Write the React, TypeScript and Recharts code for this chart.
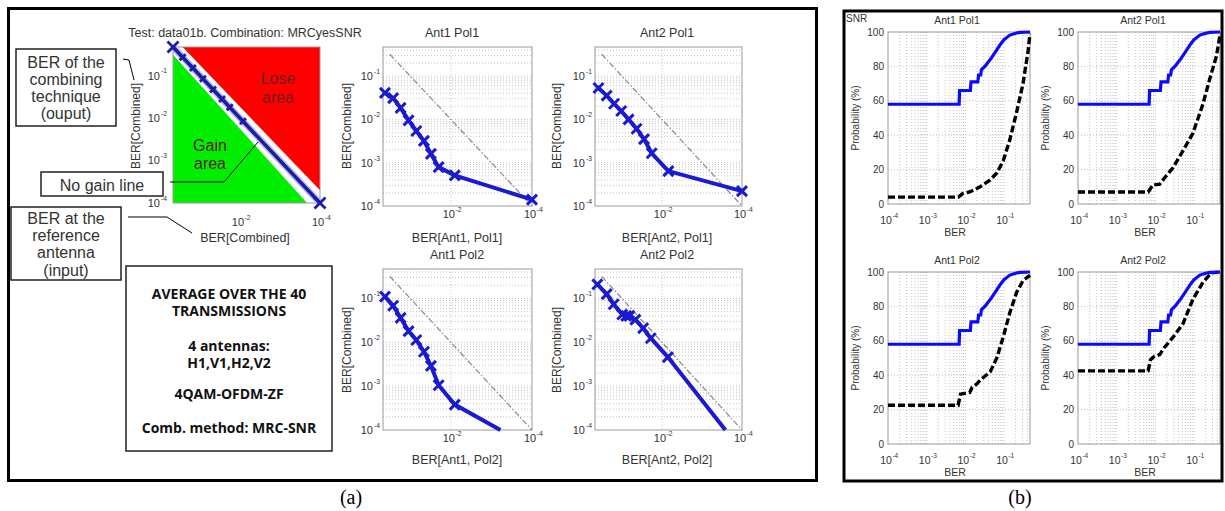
import React from 'react';
import { ComposedChart, Line, XAxis, YAxis, CartesianGrid, ReferenceArea } from 'recharts';

// ---- axis ranges / ticks (BER is on a log scale everywhere) ----
const berDomain = [1e-4, 0.47];
const berYTicks = [1e-4, 1e-3, 1e-2, 1e-1];
const berXTicks = [1e-4, 1e-2];
const berMinorGrid = [
  2e-4, 3e-4, 4e-4, 5e-4, 6e-4, 7e-4, 8e-4, 9e-4, 1e-3,
  2e-3, 3e-3, 4e-3, 5e-3, 6e-3, 7e-3, 8e-3, 9e-3, 1e-2,
  2e-2, 3e-2, 4e-2, 5e-2, 6e-2, 7e-2, 8e-2, 9e-2, 1e-1,
  0.2, 0.3, 0.4,
];
const berMajorGridX = [1e-2];
const cdfXTicks = [1e-4, 1e-3, 1e-2, 1e-1];
const cdfYTicks = [0, 20, 40, 60, 80, 100];
const cdfGridY = [20, 40, 60, 80];

// ---- (a) scheme panel ----
const schemeBer = [0.47, 0.27, 0.15, 0.084, 0.047, 0.028, 0.018, 0.0084, 1e-4];
const gainAreaBer = [0.47, 2.1e-4];
const gainAreaComb = [1e-4, 0.31];
const loseAreaBer = [0.27, 1e-4];
const loseAreaComb = [2e-4, 0.47];
const noGainRef = [0.32, 1e-4];

// ---- (a) BER[reference] vs BER[combined] ----
const a11Ref = [0.42, 0.264, 0.173, 0.11, 0.071, 0.046, 0.031, 0.02, 0.008, 1e-4];
const a11Comb = [0.041, 0.031, 0.0185, 0.0095, 0.0054, 0.0032, 0.0016, 0.00079, 0.00051, 0.00014];
const a21Ref = [0.385, 0.24, 0.157, 0.104, 0.068, 0.043, 0.028, 0.018, 0.0069, 1e-4];
const a21Comb = [0.053, 0.0355, 0.023, 0.0156, 0.01, 0.0061, 0.0035, 0.00165, 0.00064, 0.00022];
const a12Ref = [0.42, 0.264, 0.173, 0.11, 0.071, 0.046, 0.031, 0.02, 0.008, 6e-4];
const a12Comb = [0.11, 0.068, 0.036, 0.018, 0.0113, 0.0061, 0.0029, 0.00105, 0.00038, 1e-4];
const a22Ref = [0.41, 0.24, 0.16, 0.098, 0.078, 0.065, 0.046, 0.0295, 0.019, 0.0071, 2.6e-4];
const a22Comb = [0.21, 0.126, 0.074, 0.043, 0.04, 0.04, 0.033, 0.021, 0.0124, 0.0046, 1e-4];

// ---- (b) BER distributions (probability %) ----
const cdfCombBer = [1e-4, 0.0069, 0.0071, 0.0135, 0.014, 0.021, 0.022, 0.025, 0.026, 0.032, 0.044, 0.06, 0.078, 0.1, 0.142, 0.2, 0.256, 0.47];
const cdfCombProb = [58, 58, 66, 66, 71, 71, 75, 75, 78, 80, 84, 88.5, 92.4, 95.5, 98.2, 99.3, 99.8, 100];
const b11Ber = [1e-4, 0.0066, 0.0085, 0.013, 0.024, 0.044, 0.065, 0.095, 0.14, 0.21, 0.31, 0.42, 0.47];
const b11Prob = [4, 4, 6, 7, 10, 14, 18, 25, 37, 53, 70, 89, 99];
const b21Ber = [1e-4, 0.0065, 0.0075, 0.0085, 0.013, 0.017, 0.0285, 0.052, 0.093, 0.17, 0.25, 0.38, 0.47];
const b21Prob = [7, 7, 9, 11, 11.5, 15, 21, 31, 41, 58, 72, 86, 98];
const b12Ber = [1e-4, 0.0065, 0.0075, 0.013, 0.015, 0.02, 0.024, 0.044, 0.065, 0.095, 0.14, 0.21, 0.31, 0.47];
const b12Prob = [22.5, 22.5, 29, 30, 33, 35, 37, 42, 50, 62, 76, 88, 95, 98];
const b22Ber = [1e-4, 0.0065, 0.0075, 0.0095, 0.013, 0.017, 0.0285, 0.052, 0.093, 0.17, 0.28, 0.47];
const b22Prob = [42.5, 42.5, 49, 51, 52, 56, 62, 70, 84, 94, 99.5, 100];

const INK = '#333';
const FONT = '"Liberation Sans", Arial, Helvetica, sans-serif';
const BLUE_A = '#1a1ad0';
const BLUE_B = '#0a0aff';

const rScheme = { left: 173, top: 47, w: 147, h: 156 };
const rA11 = { left: 383, top: 47, w: 149, h: 159 };
const rA21 = { left: 595, top: 47, w: 147, h: 159 };
const rA12 = { left: 383, top: 269, w: 149, h: 161 };
const rA22 = { left: 595, top: 269, w: 147, h: 161 };
const rB11 = { left: 888, top: 32, w: 142, h: 172 };
const rB21 = { left: 1078, top: 32, w: 142, h: 172 };
const rB12 = { left: 888, top: 272, w: 142, h: 172 };
const rB22 = { left: 1078, top: 272, w: 142, h: 172 };

const PAD = { l: 40, r: 14, t: 10, b: 32 };

const toPts = (xs: number[], ys: number[]) => xs.map((x, i) => ({ x, y: ys[i] }));
const expo = (v: number) => String(Math.round(Math.log10(v)));

function ChartBox({ r, children }: any) {
  return (
    <div style={{ position: 'absolute', left: r.left - PAD.l, top: r.top - PAD.t }}>
      <ComposedChart
        width={r.w + PAD.l + PAD.r}
        height={r.h + PAD.t + PAD.b}
        margin={{ top: PAD.t, right: PAD.r, bottom: 0, left: 0 }}
      >
        {children}
      </ComposedChart>
    </div>
  );
}

// "10" with a small exponent, like MATLAB's log tick labels
const powTickX = (fs: number, dy: number) => (p: any) => (
  <g key={`tx${p.index}`}>
    <text x={p.x - 2} y={p.y + dy} textAnchor="middle" fontSize={fs} fill={INK}>10</text>
    <text x={p.x + fs * 0.42} y={p.y + dy - fs * 0.55} fontSize={fs * 0.62} fill={INK}>{expo(p.payload.value)}</text>
  </g>
);
const powTickY = (fs: number, gap: number) => (p: any) => (
  <g key={`ty${p.index}`}>
    <text x={p.x - gap} y={p.y + fs * 0.36} textAnchor="end" fontSize={fs} fill={INK}>10</text>
    <text x={p.x - gap + 1} y={p.y - fs * 0.2} fontSize={fs * 0.62} fill={INK}>{expo(p.payload.value)}</text>
  </g>
);
const numTickY = (p: any) => (
  <text key={`n${p.index}`} x={p.x - 4} y={p.y + 3.5} textAnchor="end" fontSize={10} fill={INK}>{p.payload.value}</text>
);

const xMark = (size: (i: number, n: number) => number, color: string, w: number, n: number, openEnd: boolean) => (p: any) => {
  const { cx, cy, index } = p;
  if (cx == null || cy == null || (openEnd && index === n - 1)) return <g key={`d${index}`} />;
  const h = size(index, n) / 2;
  return (
    <path
      key={`d${index}`}
      d={`M${cx - h},${cy - h}L${cx + h},${cy + h}M${cx - h},${cy + h}L${cx + h},${cy - h}`}
      stroke={color}
      strokeWidth={w}
      fill="none"
    />
  );
};

const boxShape = (p: any) => <rect x={p.x} y={p.y} width={p.width} height={p.height} fill="none" stroke="#9a9a9a" strokeWidth={1} />;
const gainShape = (p: any) => (
  <path d={`M${p.x},${p.y}L${p.x},${p.y + p.height}L${p.x + p.width},${p.y + p.height}Z`} fill="#00ee00" />
);
const loseShape = (p: any) => (
  <path d={`M${p.x},${p.y}L${p.x + p.width},${p.y}L${p.x + p.width},${p.y + p.height}Z`} fill="#ff0000" />
);

function SchemePanel() {
  const diag = toPts(schemeBer, schemeBer);
  return (
    <ChartBox r={rScheme}>
      <XAxis type="number" dataKey="x" scale="log" domain={berDomain} reversed ticks={berXTicks} interval={0}
        tick={powTickX(11, 23)} tickSize={0} tickMargin={0} axisLine={false} height={PAD.b} />
      <YAxis type="number" scale="log" domain={berDomain} ticks={berYTicks} interval={0}
        tick={powTickY(11, 13)} tickSize={0} tickMargin={0} axisLine={false} width={PAD.l} />
      <ReferenceArea x1={gainAreaBer[0]} x2={gainAreaBer[1]} y1={gainAreaComb[0]} y2={gainAreaComb[1]} shape={gainShape} />
      <ReferenceArea x1={loseAreaBer[0]} x2={loseAreaBer[1]} y1={loseAreaComb[0]} y2={loseAreaComb[1]} shape={loseShape} />
      <ReferenceArea x1={berDomain[0]} x2={berDomain[1]} y1={berDomain[0]} y2={berDomain[1]} shape={boxShape} />
      <Line data={diag} dataKey="y" stroke="#b4b8ea" strokeWidth={6.5} dot={false} isAnimationActive={false} />
      <Line data={diag} dataKey="y" stroke="#1b1ba8" strokeWidth={3.5}
        dot={xMark((i, n) => (i === 0 || i === n - 1 ? 11 : 6), '#1b1ba8', 2.8, diag.length, false)}
        isAnimationActive={false} />
    </ChartBox>
  );
}

function BerPanel({ r, refBer, comb, openEnd }: any) {
  const pts = toPts(refBer, comb);
  return (
    <ChartBox r={r}>
      <CartesianGrid horizontalValues={berMinorGrid} verticalValues={berMajorGridX} stroke="#c4c4c4" strokeDasharray="1 2" />
      <XAxis type="number" dataKey="x" scale="log" domain={berDomain} reversed ticks={berXTicks} interval={0}
        tick={powTickX(11, 12)} tickSize={0} tickMargin={0} axisLine={false} height={PAD.b} />
      <YAxis type="number" scale="log" domain={berDomain} ticks={berYTicks} interval={0}
        tick={powTickY(11, 10)} tickSize={0} tickMargin={0} axisLine={false} width={PAD.l} />
      <ReferenceArea x1={berDomain[0]} x2={berDomain[1]} y1={berDomain[0]} y2={berDomain[1]} shape={boxShape} />
      <Line data={toPts(noGainRef, noGainRef)} dataKey="y" stroke="#8a8a8a" strokeWidth={1.2}
        strokeDasharray="6 2 1.5 2" dot={false} isAnimationActive={false} />
      <Line data={pts} dataKey="y" stroke={BLUE_A} strokeWidth={4}
        dot={xMark(() => 10, BLUE_A, 3, pts.length, openEnd)} isAnimationActive={false} />
    </ChartBox>
  );
}

function CdfPanel({ r, refBer, refProb }: any) {
  return (
    <ChartBox r={r}>
      <CartesianGrid horizontalValues={cdfGridY} verticalValues={berMinorGrid} stroke="#c4c4c4" strokeDasharray="1 2" />
      <XAxis type="number" dataKey="x" scale="log" domain={berDomain} ticks={cdfXTicks} interval={0}
        tick={powTickX(10.5, 20)} tickSize={0} tickMargin={0} axisLine={false} height={PAD.b} />
      <YAxis type="number" domain={[0, 100]} ticks={cdfYTicks} interval={0}
        tick={numTickY} tickSize={0} tickMargin={0} axisLine={false} width={PAD.l} />
      <ReferenceArea x1={berDomain[0]} x2={berDomain[1]} y1={0} y2={100} shape={boxShape} />
      <Line data={toPts(refBer, refProb)} dataKey="y" stroke="#000" strokeWidth={3.4}
        strokeDasharray="7 3" dot={false} isAnimationActive={false} />
      <Line data={toPts(cdfCombBer, cdfCombProb)} dataKey="y" stroke={BLUE_B} strokeWidth={3.2}
        dot={false} isAnimationActive={false} />
    </ChartBox>
  );
}

function T({ x, y, size = 12, anchor = 'middle', weight = 400, fill = INK, family, rotate, children }: any) {
  return (
    <text x={x} y={y} fontSize={size} textAnchor={anchor} dominantBaseline="central" fontWeight={weight}
      fill={fill} fontFamily={family} transform={rotate ? `rotate(-90 ${x} ${y})` : undefined}>
      {children}
    </text>
  );
}

function Overlay() {
  const bold = '"Open Sans", "Noto Sans", sans-serif';
  return (
    <svg width={1225} height={511} style={{ position: 'absolute', left: 0, top: 0, pointerEvents: 'none' }}>
      <rect x={8.5} y={8.5} width={808} height={472} fill="none" stroke="#000" strokeWidth={3} />
      <rect x={844} y={11} width={378} height={470} fill="none" stroke="#000" strokeWidth={3} />
      <T x={351} y={497} size={20} family="'Liberation Serif', 'Times New Roman', serif" fill="#000">(a)</T>
      <T x={1020} y={497} size={20} family="'Liberation Serif', 'Times New Roman', serif" fill="#000">(b)</T>

      {/* scheme panel */}
      <T x={245} y={33} size={12.5}>Test: data01b. Combination: MRCyesSNR</T>
      <T x={136} y={126} size={12} rotate>BER[Combined]</T>
      <T x={245} y={238} size={12.5}>BER[Combined]</T>
      <T x={278} y={78} size={16} fill="#6e1c1c">Lose</T>
      <T x={278} y={97} size={16} fill="#6e1c1c">area</T>
      <T x={210} y={145} size={16} fill="#5e2020">Gain</T>
      <T x={210} y={163} size={16} fill="#5e2020">area</T>

      {/* annotation boxes */}
      <rect x={16} y={49} width={100} height={77} fill="#fff" stroke="#222" strokeWidth={1.5} />
      <T x={66} y={62} size={16}>BER of the</T>
      <T x={66} y={79} size={16}>combining</T>
      <T x={66} y={96} size={16}>technique</T>
      <T x={66} y={113} size={16}>(ouput)</T>
      <polyline points="123,59 129,60 134,80" fill="none" stroke="#000" strokeWidth={1} />

      <rect x={41} y={172} width={122} height={24} fill="#fff" stroke="#222" strokeWidth={1.5} />
      <T x={102} y={185} size={16}>No gain line</T>
      <polyline points="170,182 224,182 258,142" fill="none" stroke="#000" strokeWidth={1} />

      <rect x={11} y={207} width={110} height={73} fill="#fff" stroke="#222" strokeWidth={1.5} />
      <T x={66} y={218} size={16}>BER at the</T>
      <T x={66} y={235} size={16}>reference</T>
      <T x={66} y={252} size={16}>antenna</T>
      <T x={66} y={270} size={16}>(input)</T>
      <polyline points="128,217 167,217 192,233" fill="none" stroke="#000" strokeWidth={1} />

      <rect x={126} y={266} width={206} height={185} fill="#fff" stroke="#222" strokeWidth={1.5} />
      <T x={229} y={293} size={14} weight={700} family={bold} fill="#111">AVERAGE OVER THE 40</T>
      <T x={229} y={310} size={14} weight={700} family={bold} fill="#111">TRANSMISSIONS</T>
      <T x={229} y={345} size={14} weight={700} family={bold} fill="#111">4 antennas:</T>
      <T x={229} y={362} size={14} weight={700} family={bold} fill="#111">H1,V1,H2,V2</T>
      <T x={229} y={393} size={14} weight={700} family={bold} fill="#111">4QAM-OFDM-ZF</T>
      <T x={229} y={427} size={14} weight={700} family={bold} fill="#111">Comb. method: MRC-SNR</T>

      {/* (a) panels */}
      <T x={452} y={33} size={12.5}>Ant1 Pol1</T>
      <T x={667} y={33} size={12.5}>Ant2 Pol1</T>
      <T x={457} y={255} size={12.5}>Ant1 Pol2</T>
      <T x={667} y={255} size={12.5}>Ant2 Pol2</T>
      <T x={457} y={238} size={12.5}>BER[Ant1, Pol1]</T>
      <T x={667} y={238} size={12.5}>BER[Ant2, Pol1]</T>
      <T x={457} y={460} size={12.5}>BER[Ant1, Pol2]</T>
      <T x={667} y={460} size={12.5}>BER[Ant2, Pol2]</T>
      <T x={347} y={126} size={12} rotate>BER[Combined]</T>
      <T x={557} y={126} size={12} rotate>BER[Combined]</T>
      <T x={347} y={350} size={12} rotate>BER[Combined]</T>
      <T x={557} y={350} size={12} rotate>BER[Combined]</T>

      {/* (b) panels */}
      <T x={846} y={18} size={10} anchor="start">SNR</T>
      <T x={957} y={20} size={10.5}>Ant1 Pol1</T>
      <T x={1143} y={20} size={10.5}>Ant2 Pol1</T>
      <T x={957} y={260} size={10.5}>Ant1 Pol2</T>
      <T x={1143} y={260} size={10.5}>Ant2 Pol2</T>
      <T x={955} y={232} size={10.5}>BER</T>
      <T x={1145} y={232} size={10.5}>BER</T>
      <T x={955} y={472} size={10.5}>BER</T>
      <T x={1145} y={472} size={10.5}>BER</T>
      <T x={855} y={118} size={10} rotate>Probability (%)</T>
      <T x={1045} y={118} size={10} rotate>Probability (%)</T>
      <T x={855} y={358} size={10} rotate>Probability (%)</T>
      <T x={1045} y={358} size={10} rotate>Probability (%)</T>
    </svg>
  );
}

export default function App() {
  return (
    <div style={{ position: 'absolute', left: 0, top: 0, width: 1225, height: 511, background: '#fff', fontFamily: FONT, overflow: 'hidden' }}>
      <SchemePanel />
      <BerPanel r={rA11} refBer={a11Ref} comb={a11Comb} openEnd={false} />
      <BerPanel r={rA21} refBer={a21Ref} comb={a21Comb} openEnd={false} />
      <BerPanel r={rA12} refBer={a12Ref} comb={a12Comb} openEnd />
      <BerPanel r={rA22} refBer={a22Ref} comb={a22Comb} openEnd />
      <CdfPanel r={rB11} refBer={b11Ber} refProb={b11Prob} />
      <CdfPanel r={rB21} refBer={b21Ber} refProb={b21Prob} />
      <CdfPanel r={rB12} refBer={b12Ber} refProb={b12Prob} />
      <CdfPanel r={rB22} refBer={b22Ber} refProb={b22Prob} />
      <Overlay />
    </div>
  );
}
